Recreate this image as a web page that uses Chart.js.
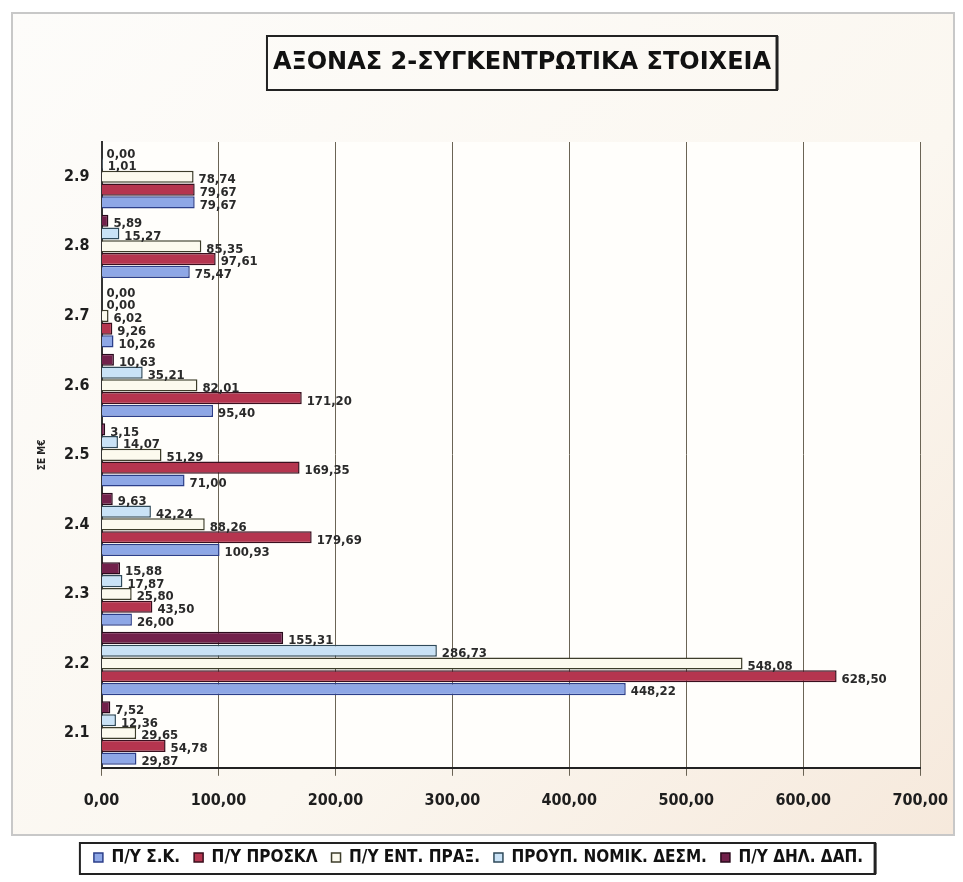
<!DOCTYPE html>
<html>
<head>
<meta charset="utf-8">
<script src="https://cdn.jsdelivr.net/npm/chart.js@4/dist/chart.umd.min.js"></script>
<style>
html,body{margin:0;padding:0;background:#ffffff;}
#wrap{position:absolute;left:11px;top:12px;width:940px;height:820px;border:2px solid #c8c8c8;background:linear-gradient(135deg,#fdfcfa 0%,#fbf7f0 60%,#f6e9dc 100%);}
#c{position:absolute;left:0;top:0;}
</style>
</head>
<body>
<div id="wrap"></div>
<canvas id="c" width="963" height="882"></canvas>
<script>
const chartTitle = 'ΑΞΟΝΑΣ 2-ΣΥΓΚΕΝΤΡΩΤΙΚΑ ΣΤΟΙΧΕΙΑ';
const categories = ['2.1','2.2','2.3','2.4','2.5','2.6','2.7','2.8','2.9'];
const seriesNames = ['Π/Υ Σ.Κ.','Π/Υ ΠΡΟΣΚΛ','Π/Υ ΕΝΤ. ΠΡΑΞ.','ΠΡΟΥΠ. ΝΟΜΙΚ. ΔΕΣΜ.','Π/Υ ΔΗΛ. ΔΑΠ.'];
const pySK      = [29.87, 448.22, 26.00, 100.93, 71.00, 95.40, 10.26, 75.47, 79.67];
const pyProskl  = [54.78, 628.50, 43.50, 179.69, 169.35, 171.20, 9.26, 97.61, 79.67];
const pyEntPrax = [29.65, 548.08, 25.80, 88.26, 51.29, 82.01, 6.02, 85.35, 78.74];
const proypNom  = [12.36, 286.73, 17.87, 42.24, 14.07, 35.21, 0.00, 15.27, 1.01];
const pyDhlDap  = [7.52, 155.31, 15.88, 9.63, 3.15, 10.63, 0.00, 5.89, 0.00];
const xTicks = [0,100,200,300,400,500,600,700];

const fills = ['#8ea7e6','#b5354f','#fcfaee','#c9e2f6','#72214b'];
const edges = ['#2c3f8a','#3a0f1e','#3d3d2a','#2f4a5a','#2a0a1c'];
const values = [pySK, pyProskl, pyEntPrax, proypNom, pyDhlDap];

const fmt = v => v.toFixed(2).replace('.', ',');
const condensed = '"DejaVu Sans Condensed", "Liberation Sans Narrow", "DejaVu Sans", sans-serif';

// dataset order reversed so that the first series sits at the bottom of each group
const order = [4, 3, 2, 1, 0];

const labelPlugin = {
  id: 'barLabels',
  afterDatasetsDraw(chart) {
    const ctx = chart.ctx;
    ctx.save();
    ctx.font = 'bold 13px ' + condensed;
    ctx.fillStyle = '#2a2a2a';
    ctx.textAlign = 'left';
    ctx.textBaseline = 'middle';
    chart.data.datasets.forEach((ds, di) => {
      const meta = chart.getDatasetMeta(di);
      meta.data.forEach((bar, i) => {
        ctx.fillText(fmt(ds.data[i]), bar.x + 5, bar.y + 3);
      });
    });
    ctx.restore();
  }
};

const boxPlugin = {
  id: 'boxes',
  beforeDraw(chart) {
    const ctx = chart.ctx, a = chart.chartArea;
    ctx.save();
    ctx.fillStyle = '#fffefb';
    ctx.fillRect(a.left, a.top, a.right - a.left, a.bottom - a.top);
    ctx.restore();
  },
  afterDraw(chart) {
    const ctx = chart.ctx;
    ctx.save();
    // title
    ctx.font = 'bold 24px "DejaVu Sans", sans-serif';
    ctx.fillStyle = '#111';
    ctx.textAlign = 'center';
    ctx.textBaseline = 'middle';
    const cx = 522, cy = 63;
    ctx.fillText(chartTitle, cx, cy);
    const tw = ctx.measureText(chartTitle).width;
    ctx.strokeStyle = '#222';
    ctx.lineWidth = 2;
    ctx.strokeRect(cx - tw / 2 - 6, 36, tw + 12, 54);
    ctx.lineWidth = 3;
    ctx.beginPath();
    ctx.moveTo(cx + tw / 2 + 6, 36); ctx.lineTo(cx + tw / 2 + 6, 90);
    ctx.stroke();
    // legend box
    const l = chart.legend;
    const hb = l.legendHitBoxes;
    const x0 = Math.min(...hb.map(h => h.left)) - 14;
    const x1 = Math.max(...hb.map(h => h.left + h.width)) + 12;
    ctx.lineWidth = 2;
    ctx.strokeRect(x0, 843, x1 - x0, 31);
    ctx.lineWidth = 3;
    ctx.beginPath();
    ctx.moveTo(x1, 843); ctx.lineTo(x1, 874);
    ctx.stroke();
    ctx.restore();
  }
};

new Chart(document.getElementById('c'), {
  type: 'bar',
  data: {
    labels: categories,
    datasets: order.map(k => ({
      label: seriesNames[k],
      data: values[k],
      backgroundColor: fills[k],
      borderColor: edges[k],
      borderWidth: 1.5,
      categoryPercentage: 0.92,
      barPercentage: 0.95
    }))
  },
  options: {
    indexAxis: 'y',
    responsive: false,
    animation: false,
    layout: { padding: { left: 36, right: 42, top: 142, bottom: 6 } },
    scales: {
      x: {
        min: 0, max: 700,
        afterBuildTicks(ax) { ax.ticks = xTicks.map(v => ({ value: v })); },
        afterFit(scale) { scale.height += 10; },
        grid: { color: '#6b6455', lineWidth: 1, drawTicks: true, tickLength: 8 },
        border: { color: '#222', width: 2 },
        ticks: {
          color: '#1e1e1e',
          font: { family: condensed, size: 16, weight: 'bold' },
          padding: 15,
          maxRotation: 0,
          callback: v => fmt(v)
        }
      },
      y: {
        reverse: true,
        grid: { display: false, drawTicks: true, tickLength: 6 },
        border: { color: '#333', width: 2 },
        ticks: {
          color: '#1e1e1e',
          font: { family: condensed, size: 16, weight: 'bold' },
          padding: 6
        },
        title: {
          display: true,
          text: 'ΣΕ Μ€',
          color: '#222',
          font: { family: condensed, size: 10, weight: 'bold' },
          padding: { top: 0, bottom: 10 }
        }
      }
    },
    plugins: {
      legend: {
        position: 'bottom',
        labels: {
          color: '#111',
          boxWidth: 9, boxHeight: 9,
          padding: 14,
          font: { family: condensed, size: 17, weight: 'bold' },
          sort: (a, b) => b.datasetIndex - a.datasetIndex
        }
      },
      tooltip: { enabled: false }
    }
  },
  plugins: [labelPlugin, boxPlugin]
});
</script>
</body>
</html>
